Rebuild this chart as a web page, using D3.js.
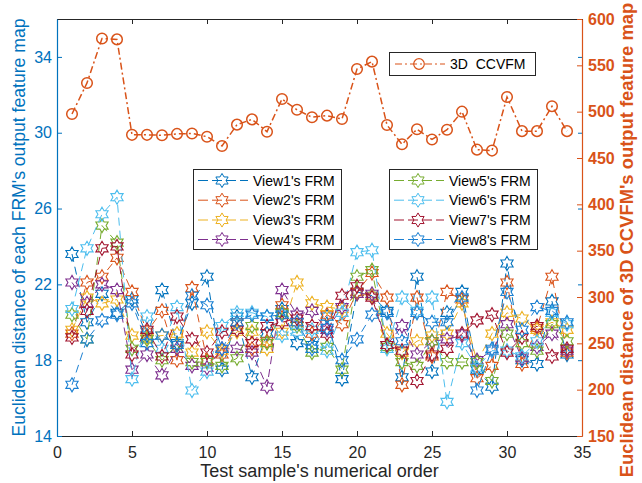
<!DOCTYPE html>
<meta charset="utf-8">
<script src="https://cdn.jsdelivr.net/npm/d3@7"></script>
<style>
  body { margin: 0; background: #fff; }
  text { font-family: "Liberation Sans", Arial, sans-serif; }
</style>
<div id="chart"></div>
<script>

// test sample numbers
var samples = d3.range(1, 35)

// FRM distances of each view (left axis)
var view1 = [23.6, 20.0, 21.5, 20.5, 21.2, 19.3, 21.7, 18.9, 21.0, 22.4, 17.5, 20.3, 17.1, 19.4, 20.7, 18.9, 18.8, 20.3, 17.0, 21.6, 21.4, 20.6, 17.1, 22.4, 17.4, 20.5, 21.6, 17.5, 16.6, 23.1, 18.0, 17.8, 21.1, 18.3]
var view2 = [19.4, 22.1, 22.4, 23.4, 21.6, 19.5, 20.6, 18.0, 21.8, 18.0, 18.3, 20.0, 18.6, 19.0, 20.9, 20.0, 19.4, 20.4, 19.9, 21.6, 22.6, 21.3, 16.7, 21.3, 18.2, 21.6, 21.2, 17.05, 17.7, 22.1, 17.8, 19.7, 22.4, 18.4]
var view3 = [19.6, 21.3, 21.0, 21.2, 19.3, 19.2, 19.3, 19.4, 18.4, 19.5, 18.5, 19.5, 19.5, 18.6, 19.5, 22.1, 21.0, 20.8, 20.7, 21.5, 21.4, 19.4, 18.4, 19.0, 19.3, 19.4, 21.0, 17.9, 19.4, 20.5, 20.2, 19.6, 20.0, 19.6]
var view4 = [22.1, 21.0, 22.0, 21.7, 17.5, 18.3, 17.2, 18.6, 17.7, 17.6, 18.6, 18.6, 18.4, 16.6, 21.7, 20.4, 20.6, 19.6, 20.8, 21.5, 21.5, 18.8, 19.8, 18.3, 19.0, 19.1, 19.3, 18.0, 18.5, 19.9, 18.1, 18.7, 19.4, 18.5]
var view5 = [20.4, 19.1, 25.1, 24.2, 18.6, 19.1, 18.0, 18.8, 17.9, 17.9, 17.7, 18.1, 19.8, 18.9, 20.5, 19.8, 18.4, 18.7, 17.5, 22.4, 22.75, 18.7, 17.9, 17.7, 19.0, 17.9, 17.9, 17.9, 16.9, 19.4, 18.9, 18.5, 19.9, 19.0]
var view6 = [20.7, 23.9, 25.7, 26.6, 17.0, 20.3, 18.6, 20.8, 16.4, 17.4, 19.8, 20.5, 20.5, 20.3, 19.3, 19.5, 19.6, 18.5, 20.5, 23.7, 23.8, 18.6, 21.3, 20.6, 21.3, 15.8, 18.9, 17.6, 18.5, 18.5, 18.2, 19.0, 20.5, 19.9]
var view7 = [19.2, 20.6, 23.9, 24.0, 18.3, 19.6, 18.2, 20.3, 19.1, 18.4, 19.5, 19.6, 18.9, 19.8, 20.0, 20.2, 19.8, 19.4, 21.4, 21.9, 21.3, 18.8, 18.5, 16.9, 18.3, 18.6, 19.4, 20.1, 20.4, 18.4, 19.2, 19.8, 18.2, 18.6]
var view8 = [16.7, 19.1, 20.1, 20.4, 21.0, 18.9, 19.3, 18.8, 21.4, 20.9, 18.6, 20.0, 20.4, 20.3, 20.4, 20.0, 18.6, 19.7, 18.0, 19.1, 20.4, 20.5, 19.0, 20.5, 20.0, 20.0, 21.3, 16.4, 18.6, 21.6, 19.6, 20.8, 20.6, 20.0]

// 3D CCVFM distance (right axis)
var ccvfm = [497.5, 531, 579, 578, 475, 475, 474.5, 476, 476.5, 473, 463, 486, 491.7, 478.4, 513.7, 502, 494, 495.7, 492, 546, 554, 485.6, 464.8, 481, 470, 480.5, 500, 459, 458, 515.8, 479, 479, 505.8, 479]

var viewNames = ["View1's FRM", "View2's FRM", "View3's FRM", "View4's FRM",
                 "View5's FRM", "View6's FRM", "View7's FRM", "View8's FRM"]
var viewColors = ["#0072BD", "#D95319", "#EDB120", "#7E2F8E",
                  "#77AC30", "#4DBEEE", "#A2142F", "#1B80D2"]
var views = [view1, view2, view3, view4, view5, view6, view7, view8]

var xTicks = [0, 5, 10, 15, 20, 25, 30, 35]
var yLeftTicks = [14, 18, 22, 26, 30, 34]
var yRightTicks = [150, 200, 250, 300, 350, 400, 450, 500, 550, 600]

var width = 642, height = 483
var margin = {top: 19, right: 60, bottom: 47, left: 57}

var leftColor = "#0072BD", rightColor = "#D95319", axisColor = "#262626"

var svg = d3.select("#chart").append("svg")
  .attr("width", width)
  .attr("height", height)

var x = d3.scaleLinear().domain([0, 35]).range([margin.left, width - margin.right])
var yL = d3.scaleLinear().domain([14, 36]).range([height - margin.bottom, margin.top])
var yR = d3.scaleLinear().domain([150, 600]).range([height - margin.bottom, margin.top])

// six pointed star, outline only
var hexagram = {
  draw: function(context, size) {
    var R = Math.sqrt(size), r = R / Math.sqrt(3)
    for (var i = 0; i < 12; i++) {
      var a = -Math.PI / 2 + i * Math.PI / 6
      var rad = i % 2 ? r : R
      if (i == 0) context.moveTo(rad * Math.cos(a), rad * Math.sin(a))
      else context.lineTo(rad * Math.cos(a), rad * Math.sin(a))
    }
    context.closePath()
  }
}
var starPath = d3.symbol().type(hexagram).size(50)
var circlePath = d3.symbol().type(d3.symbolCircle).size(88)

// axes
var xAxisBottom = svg.append("g")
  .attr("transform", "translate(0," + (height - margin.bottom) + ")")
  .call(d3.axisBottom(x).tickValues(xTicks).tickSizeInner(-5).tickSizeOuter(0).tickPadding(11))
var xAxisTop = svg.append("g")
  .attr("transform", "translate(0," + margin.top + ")")
  .call(d3.axisTop(x).tickValues(xTicks).tickSizeInner(-5).tickSizeOuter(0).tickFormat(""))
;[xAxisBottom, xAxisTop].forEach(function(g) {
  g.select(".domain").attr("stroke", axisColor)
  g.selectAll(".tick line").attr("stroke", axisColor)
  g.selectAll("text").attr("fill", axisColor).style("font-size", "16px")
})

var yAxisLeft = svg.append("g")
  .attr("transform", "translate(" + margin.left + ",0)")
  .call(d3.axisLeft(yL).tickValues(yLeftTicks).tickSizeInner(-5).tickSizeOuter(0).tickPadding(5))
yAxisLeft.select(".domain").attr("stroke", leftColor)
yAxisLeft.selectAll(".tick line").attr("stroke", leftColor)
yAxisLeft.selectAll("text").attr("fill", leftColor).style("font-size", "16px")

// left ticks mirrored on the right side
svg.append("g")
  .attr("transform", "translate(" + (width - margin.right) + ",0)")
  .call(d3.axisRight(yL).tickValues(yLeftTicks).tickSizeInner(-4).tickSizeOuter(0).tickFormat(""))
  .call(function(g) {
    g.select(".domain").remove()
    g.selectAll(".tick line").attr("stroke", leftColor)
  })

var yAxisRight = svg.append("g")
  .attr("transform", "translate(" + (width - margin.right) + ",0)")
  .call(d3.axisRight(yR).tickValues(yRightTicks).tickSizeInner(-5).tickSizeOuter(0).tickPadding(6))
yAxisRight.select(".domain").attr("stroke", rightColor)
yAxisRight.selectAll(".tick line").attr("stroke", rightColor)
yAxisRight.selectAll("text").attr("fill", rightColor).style("font-size", "16px").style("font-weight", "bold")

svg.selectAll(".domain").attr("stroke-width", 1.2)

// axis labels
var midY = (margin.top + height - margin.bottom) / 2
svg.append("text")
  .attr("transform", "translate(20," + midY + ") rotate(-90)")
  .attr("text-anchor", "middle")
  .attr("dominant-baseline", "middle")
  .attr("fill", leftColor)
  .style("font-size", "17.6px")
  .text("Euclidean distance of each FRM's output feature map")
svg.append("text")
  .attr("transform", "translate(628,240) rotate(-90)")
  .attr("text-anchor", "middle")
  .attr("dominant-baseline", "middle")
  .attr("fill", rightColor)
  .style("font-size", "18.4px")
  .style("font-weight", "bold")
  .text("Euclidean distance of 3D CCVFM's output feature map")
svg.append("text")
  .attr("x", (margin.left + width - margin.right) / 2)
  .attr("y", 477)
  .attr("text-anchor", "middle")
  .attr("fill", axisColor)
  .style("font-size", "18px")
  .text("Test sample's numerical order")

// FRM series
var lineL = d3.line().x(function(d, i) { return x(samples[i]) }).y(function(d) { return yL(d) })
views.forEach(function(v, k) {
  svg.append("path")
    .datum(v)
    .attr("d", lineL)
    .attr("fill", "none")
    .attr("stroke", viewColors[k])
    .attr("stroke-width", 1)
    .attr("stroke-dasharray", "8,5")
  svg.selectAll(".m" + k)
    .data(v)
    .enter()
    .append("path")
      .attr("transform", function(d, i) { return "translate(" + x(samples[i]) + "," + yL(d) + ")" })
      .attr("d", starPath)
      .attr("fill", "none")
      .attr("stroke", viewColors[k])
      .attr("stroke-width", 1.1)
})

// 3D CCVFM series
var lineR = d3.line().x(function(d, i) { return x(samples[i]) }).y(function(d) { return yR(d) })
svg.append("path")
  .datum(ccvfm)
  .attr("d", lineR)
  .attr("fill", "none")
  .attr("stroke", rightColor)
  .attr("stroke-width", 1.5)
  .attr("stroke-dasharray", "7,3,2,3")
svg.selectAll(".mc")
  .data(ccvfm)
  .enter()
  .append("path")
    .attr("transform", function(d, i) { return "translate(" + x(samples[i]) + "," + yR(d) + ")" })
    .attr("d", circlePath)
    .attr("fill", "none")
    .attr("stroke", rightColor)
    .attr("stroke-width", 1.5)

// legends
function legendBox(x0, y0, w, h) {
  svg.append("rect")
    .attr("x", x0).attr("y", y0).attr("width", w).attr("height", h)
    .attr("fill", "#fff").attr("stroke", axisColor).attr("stroke-width", 1)
}
function legendItem(x0, cy, color, name, marker, dash, lw) {
  svg.append("line")
    .attr("x1", x0).attr("x2", x0 + 50).attr("y1", cy).attr("y2", cy)
    .attr("stroke", color).attr("stroke-width", lw).attr("stroke-dasharray", dash)
  svg.append("path")
    .attr("transform", "translate(" + (x0 + 24) + "," + cy + ")")
    .attr("d", marker)
    .attr("fill", "none").attr("stroke", color).attr("stroke-width", lw)
  svg.append("text")
    .attr("x", x0 + 55).attr("y", cy)
    .attr("dominant-baseline", "central")
    .attr("fill", "#000")
    .style("font-size", "14px")
    .style("white-space", "pre")
    .text(name)
}

legendBox(193.5, 169.5, 148, 80)
legendBox(389.5, 169.5, 148, 80)
var rowY = [180.5, 200.2, 220, 239.5]
for (var k = 0; k < 4; k++) {
  legendItem(198, rowY[k], viewColors[k], viewNames[k], starPath, "10,4", 1)
  legendItem(394, rowY[k], viewColors[k + 4], viewNames[k + 4], starPath, "10,4", 1)
}

legendBox(389.5, 52.5, 146, 23)
legendItem(395, 64, rightColor, "3D  CCVFM", circlePath, "7,3,2,3", 1.2)

</script>
